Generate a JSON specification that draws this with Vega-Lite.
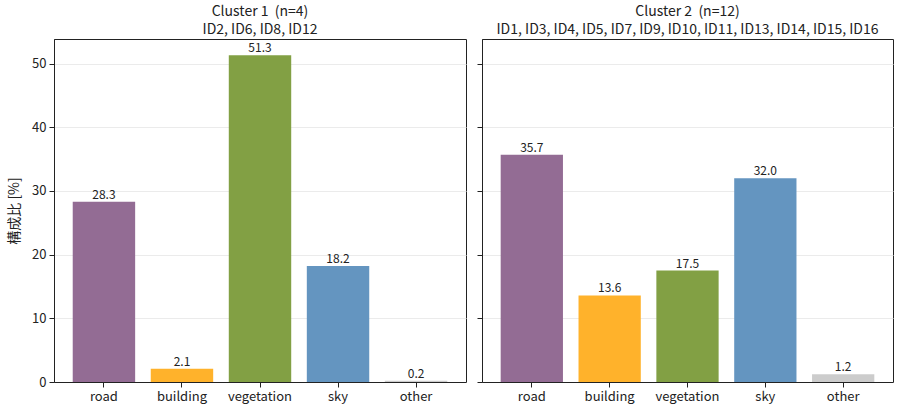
{
  "$schema": "https://vega.github.io/schema/vega-lite/v6.json",
  "padding": {"left": 7, "top": 4, "right": 12, "bottom": 4},
  "data": {
    "values": [
      {"cluster": 1, "class": "road", "value": 28.3},
      {"cluster": 1, "class": "building", "value": 2.1},
      {"cluster": 1, "class": "vegetation", "value": 51.3},
      {"cluster": 1, "class": "sky", "value": 18.2},
      {"cluster": 1, "class": "other", "value": 0.2},
      {"cluster": 2, "class": "road", "value": 35.7},
      {"cluster": 2, "class": "building", "value": 13.6},
      {"cluster": 2, "class": "vegetation", "value": 17.5},
      {"cluster": 2, "class": "sky", "value": 32.0},
      {"cluster": 2, "class": "other", "value": 1.2}
    ]
  },
  "spacing": 9,
  "hconcat": [
    {
      "width": 412,
      "height": 343,
      "title": {"text": "Cluster 1\u00a0 (n=4)", "subtitle": "ID2, ID6, ID8, ID12"},
      "transform": [{"filter": "datum.cluster == 1"}],
      "encoding": {
        "x": {
          "field": "class", "type": "nominal",
          "sort": ["road", "building", "vegetation", "sky", "other"],
          "scale": {"paddingInner": 0.2, "paddingOuter": 0.24},
          "axis": {"labelAngle": 0, "title": null}
        },
        "y": {
          "field": "value", "type": "quantitative",
          "scale": {"domain": [0, 53.865], "nice": false},
          "axis": {"values": [0, 10, 20, 30, 40, 50], "title": "構成比\u00a0[%]", "titlePadding": 10}
        }
      },
      "layer": [
        {
          "mark": "bar",
          "encoding": {
            "color": {
              "field": "class", "type": "nominal", "legend": null,
              "scale": {
                "domain": ["road", "building", "vegetation", "sky", "other"],
                "range": ["#936c94", "#ffb22b", "#82a044", "#6495c0", "#cccccc"]
              }
            }
          }
        },
        {
          "mark": {"type": "text", "dy": -7, "fontSize": 12, "color": "#222222", "font": "Noto Sans CJK JP"},
          "encoding": {"text": {"field": "value", "type": "quantitative", "format": ".1f"}}
        }
      ]
    },
    {
      "width": 411,
      "height": 343,
      "title": {"text": "Cluster 2\u00a0 (n=12)", "subtitle": "ID1, ID3, ID4, ID5, ID7, ID9, ID10, ID11, ID13, ID14, ID15, ID16"},
      "transform": [{"filter": "datum.cluster == 2"}],
      "encoding": {
        "x": {
          "field": "class", "type": "nominal",
          "sort": ["road", "building", "vegetation", "sky", "other"],
          "scale": {"paddingInner": 0.2, "paddingOuter": 0.24},
          "axis": {"labelAngle": 0, "title": null}
        },
        "y": {
          "field": "value", "type": "quantitative",
          "scale": {"domain": [0, 53.865], "nice": false},
          "axis": {"values": [0, 10, 20, 30, 40, 50], "title": null, "labels": false}
        }
      },
      "layer": [
        {
          "mark": "bar",
          "encoding": {
            "color": {
              "field": "class", "type": "nominal", "legend": null,
              "scale": {
                "domain": ["road", "building", "vegetation", "sky", "other"],
                "range": ["#936c94", "#ffb22b", "#82a044", "#6495c0", "#cccccc"]
              }
            }
          }
        },
        {
          "mark": {"type": "text", "dy": -7, "fontSize": 12, "color": "#222222", "font": "Noto Sans CJK JP"},
          "encoding": {"text": {"field": "value", "type": "quantitative", "format": ".1f"}}
        }
      ]
    }
  ],
  "config": {
    "view": {"stroke": "#222222", "strokeWidth": 1},
    "axis": {
      "labelFont": "Noto Sans CJK JP",
      "labelFontSize": 13,
      "labelColor": "#222222",
      "tickColor": "#222222",
      "domainColor": "#222222",
      "tickSize": 5,
      "labelPadding": 3,
      "gridColor": "#ebebeb",
      "titleFont": "Noto Sans CJK JP",
      "titleFontSize": 14,
      "titleFontWeight": "normal",
      "titleColor": "#222222"
    },
    "axisX": {"grid": false},
    "title": {
      "font": "Noto Sans CJK JP",
      "fontSize": 14,
      "fontWeight": "normal",
      "color": "#222222",
      "subtitleFont": "Noto Sans CJK JP",
      "subtitleFontSize": 14,
      "subtitleColor": "#222222",
      "subtitlePadding": 4,
      "offset": 2
    }
  }
}
